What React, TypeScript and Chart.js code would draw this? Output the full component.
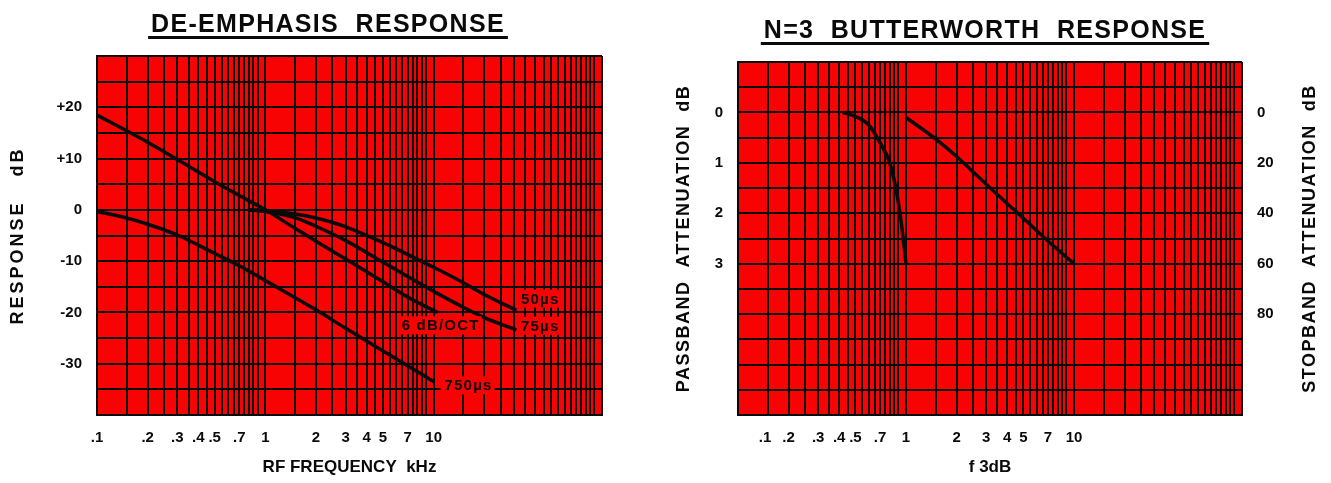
import React, { useEffect, useRef } from 'react';
import { Chart, registerables } from 'chart.js';

Chart.register(...registerables);

const FONT_FAMILY = "'Liberation Sans', Arial, Helvetica, sans-serif";
const RED = '#f80303';
const INK = '#0a0a0a';

// ---- log grid (values in kHz / normalised frequency) ----
const gridDecades = [0.1, 1, 10];
const gridSteps = [1, 1.5, 2, 2.5, 3, 3.5, 4, 4.5, 5, 5.5, 6, 6.5, 7, 7.5, 8, 8.5, 9];
const gridEnd = 100;

// ---- frequency tick labels ----
const freqLabelValues = [0.1, 0.2, 0.3, 0.4, 0.5, 0.7, 1, 2, 3, 4, 5, 7, 10];
const freqLabelTexts = ['.1', '.2', '.3', '.4', '.5', '.7', '1', '2', '3', '4', '5', '7', '10'];
// the Butterworth sheet has its ".1" lettered a little to the right of the 0.1 line
const bwLabelValues = [0.145, 0.2, 0.3, 0.4, 0.5, 0.7, 1, 2, 3, 4, 5, 7, 10];
const bwLabelTexts = ['.1', '.2', '.3', '.4', '.5', '.7', '1', '2', '3', '4', '5', '7', '10'];

// ---- left panel: de-emphasis ----
const respLabelValues = [20, 10, 0, -10, -20, -30];
const respLabelTexts = ['+20', '+10', '0', '-10', '-20', '-30'];

const freq6dB = [0.1, 0.2, 0.3, 0.5, 0.7, 1, 1.5, 2, 3, 5, 7, 10.5];
const resp6dB = [18.5, 13.2, 9.8, 5.5, 2.8, 0, -3.6, -6.1, -9.6, -14, -17, -20];

const freq50us = [0.8, 1, 1.5, 2, 3, 5, 7, 10, 15, 20, 31];
const resp50us = [0, -0.2, -0.8, -1.6, -3.3, -6.4, -8.7, -11.2, -14.2, -16.5, -19.6];

const freq75us = [0.8, 1, 1.5, 2, 3, 5, 7, 10, 15, 20, 31];
const resp75us = [0, -0.3, -1.5, -3.2, -6, -10.2, -13, -15.9, -19, -21, -23.4];

const freq750us = [0.1, 0.15, 0.2, 0.3, 0.5, 0.7, 1, 2, 3, 5, 7, 10];
const resp750us = [-0.3, -1.6, -2.8, -4.9, -8.5, -10.9, -13.8, -19.5, -23.1, -27.5, -30.4, -33.5];

const noteTexts = ['50\u00b5s', '75\u00b5s', '6 dB/OCT', '750\u00b5s'];
const noteX = [33, 33, 11, 11.6];
const noteY = [-17.3, -22.6, -22.5, -34.2];
const noteAlign = ['left', 'left', 'center', 'left'];

// ---- right panel: N=3 Butterworth ----
const passLabelValues = [0, 1, 2, 3];
const passLabelTexts = ['0', '1', '2', '3'];
const stopLabelValues = [0, 20, 40, 60, 80];
const stopLabelTexts = ['0', '20', '40', '60', '80'];

const passFreq = [0.42, 0.5, 0.6, 0.7, 0.8, 0.87, 0.93, 0.97, 1.0];
const passAtten = [0, 0.08, 0.25, 0.6, 1.0, 1.5, 2.1, 2.6, 3.0];

const stopFreq = [1, 1.5, 2, 3, 5, 7, 10];
const stopAtten = [2, 10.5, 17.5, 28.5, 42, 51, 60];

// -------------------------------------------------------------
const gridValues = gridDecades.flatMap((d) => gridSteps.map((s) => d * s)).concat([gridEnd]);

function sameLog(a: number, b: number) {
  return Math.abs(Math.log10(a) - Math.log10(b)) < 1e-6;
}

function findLabel(v: number, values: number[], texts: string[], log: boolean) {
  for (let i = 0; i < values.length; i++) {
    const a = values[i];
    if (log ? sameLog(v, a) : Math.abs(v - a) < 1e-6) return texts[i];
  }
  return '';
}

function pts(xs: number[], ys: number[]) {
  return xs.map((x, i) => ({ x, y: ys[i] }));
}

const tickFont = { family: FONT_FAMILY, size: 15, weight: 'bold' as const };
const titleFont = { family: FONT_FAMILY, size: 17, weight: 'bold' as const };

const panelDecor = {
  id: 'panelDecor',
  beforeDraw(chart: any) {
    const { ctx, chartArea: a } = chart;
    ctx.save();
    ctx.fillStyle = RED;
    ctx.fillRect(a.left, a.top, a.right - a.left, a.bottom - a.top);
    ctx.restore();
  },
  afterDatasetsDraw(chart: any, _args: any, opts: any) {
    const notes = opts.notes || [];
    const ctx = chart.ctx;
    ctx.save();
    ctx.font = `bold 15px ${FONT_FAMILY}`;
    (ctx as any).letterSpacing = '1.2px';
    ctx.textBaseline = 'middle';
    for (const n of notes) {
      const px = chart.scales.x.getPixelForValue(n.x);
      const py = chart.scales.y.getPixelForValue(n.y);
      const w = ctx.measureText(n.text).width;
      const left = n.align === 'center' ? px - w / 2 : px;
      ctx.fillStyle = RED;
      ctx.fillRect(left - 4, py - 9, w + 6, 18);
      ctx.fillStyle = INK;
      ctx.textAlign = 'left';
      ctx.fillText(n.text, left, py + 1);
    }
    ctx.restore();
  },
  afterDraw(chart: any, _args: any, opts: any) {
    const ctx = chart.ctx;
    ctx.save();
    ctx.font = `bold 25px ${FONT_FAMILY}`;
    (ctx as any).letterSpacing = '1.3px';
    ctx.fillStyle = INK;
    ctx.textAlign = 'center';
    ctx.textBaseline = 'alphabetic';
    ctx.fillText(opts.title, opts.titleX, opts.titleY);
    const w = ctx.measureText(opts.title).width;
    ctx.fillRect(opts.titleX - w / 2 - 3, opts.titleY + 4, w + 6, 3);
    ctx.restore();

    const a = chart.chartArea;
    for (const s of opts.sideTitles || []) {
      ctx.save();
      ctx.font = `bold 18px ${FONT_FAMILY}`;
      (ctx as any).letterSpacing = s.spacing;
      ctx.fillStyle = INK;
      ctx.textAlign = 'center';
      ctx.textBaseline = 'middle';
      ctx.translate(s.x, (a.top + a.bottom) / 2);
      ctx.rotate(-Math.PI / 2);
      ctx.fillText(s.text, 0, 0);
      ctx.restore();
    }
  },
};

function freqAxis(title: string, labelValues: number[], labelTexts: string[]) {
  const tickValues = gridValues.concat(labelValues.filter((v) => !gridValues.some((g) => sameLog(g, v))));
  tickValues.sort((a, b) => a - b);
  return {
    type: 'logarithmic' as const,
    min: 0.1,
    max: 100,
    afterBuildTicks: (s: any) => {
      s.ticks = tickValues.map((v) => ({ value: v }));
    },
    afterFit: (s: any) => {
      s.height = 68;
    },
    grid: {
      color: (c: any) => (c.tick && !gridValues.some((g) => sameLog(g, c.tick.value)) ? 'rgba(0,0,0,0)' : INK),
      lineWidth: 2,
      drawTicks: false,
    },
    border: { color: INK, width: 2 },
    ticks: {
      autoSkip: false,
      maxRotation: 0,
      minRotation: 0,
      padding: 14,
      color: INK,
      font: tickFont,
      callback: (v: any) => findLabel(Number(v), labelValues, labelTexts, true),
    },
    title: {
      display: true,
      text: title,
      color: INK,
      font: titleFont,
      padding: { top: 0, bottom: 5 },
    },
  };
}

const lineStyle = {
  borderColor: INK,
  borderWidth: 3.5,
  pointRadius: 0,
  fill: false,
  tension: 0.4,
  cubicInterpolationMode: 'monotone',
};

function leftConfig(): any {
  return {
    type: 'line',
    data: {
      datasets: [
        { label: '6 dB/OCT', data: pts(freq6dB, resp6dB) },
        { label: '50\u00b5s', data: pts(freq50us, resp50us) },
        { label: '75\u00b5s', data: pts(freq75us, resp75us) },
        { label: '750\u00b5s', data: pts(freq750us, resp750us) },
      ].map((d) => ({ ...d, ...lineStyle })),
    },
    options: {
      animation: false,
      responsive: false,
      devicePixelRatio: 1,
      layout: { padding: { top: 56, right: 58, left: 0, bottom: 0 } },
      plugins: {
        legend: { display: false },
        tooltip: { enabled: false },
        panelDecor: {
          title: 'DE-EMPHASIS  RESPONSE',
          titleX: 328,
          titleY: 32,
          notes: noteTexts.map((t, i) => ({ text: t, x: noteX[i], y: noteY[i], align: noteAlign[i] })),
          sideTitles: [{ text: 'RESPONSE   dB', x: 18, spacing: '3px' }],
        },
      },
      scales: {
        x: freqAxis('RF FREQUENCY  kHz', freqLabelValues, freqLabelTexts),
        y: {
          type: 'linear',
          min: -40,
          max: 30,
          afterFit: (s: any) => {
            s.width = 97;
          },
          grid: { color: INK, lineWidth: 2, drawTicks: false },
          border: { color: INK, width: 2 },
          ticks: {
            stepSize: 5,
            autoSkip: false,
            padding: 15,
            color: INK,
            font: tickFont,
            callback: (v: any) => findLabel(Number(v), respLabelValues, respLabelTexts, false),
          },
          title: { display: false },
        },
      },
    },
    plugins: [panelDecor],
  };
}

function rightConfig(): any {
  return {
    type: 'line',
    data: {
      datasets: [
        { label: 'Passband', data: pts(passFreq, passAtten), yAxisID: 'y' },
        { label: 'Stopband', data: pts(stopFreq, stopAtten), yAxisID: 'y2' },
      ].map((d) => ({ ...d, ...lineStyle })),
    },
    options: {
      animation: false,
      responsive: false,
      devicePixelRatio: 1,
      layout: { padding: { top: 62, right: 0, left: 0, bottom: 0 } },
      plugins: {
        legend: { display: false },
        tooltip: { enabled: false },
        panelDecor: {
          title: 'N=3  BUTTERWORTH  RESPONSE',
          titleX: 325,
          titleY: 38,
          notes: [],
          sideTitles: [
            { text: 'PASSBAND  ATTENUATION  dB', x: 24, spacing: '1.5px' },
            { text: 'STOPBAND  ATTENUATION  dB', x: 650, spacing: '1.5px' },
          ],
        },
      },
      scales: {
        x: freqAxis('f 3dB', bwLabelValues, bwLabelTexts),
        y: {
          type: 'linear',
          position: 'left',
          min: -1,
          max: 6,
          reverse: true,
          afterFit: (s: any) => {
            s.width = 78;
          },
          grid: { color: INK, lineWidth: 2, drawTicks: false },
          border: { color: INK, width: 2 },
          ticks: {
            stepSize: 0.5,
            autoSkip: false,
            padding: 15,
            color: INK,
            font: tickFont,
            callback: (v: any) => findLabel(Number(v), passLabelValues, passLabelTexts, false),
          },
          title: { display: false },
        },
        y2: {
          type: 'linear',
          position: 'right',
          min: -20,
          max: 120,
          reverse: true,
          afterFit: (s: any) => {
            s.width = 89;
          },
          grid: { display: false, drawTicks: false },
          border: { display: false },
          ticks: {
            stepSize: 10,
            autoSkip: false,
            padding: 15,
            color: INK,
            font: tickFont,
            callback: (v: any) => findLabel(Number(v), stopLabelValues, stopLabelTexts, false),
          },
          title: { display: false },
        },
      },
    },
    plugins: [panelDecor],
  };
}

function Panel({ make, left, width }: { make: () => any; left: number; width: number }) {
  const ref = useRef<HTMLCanvasElement>(null);
  useEffect(() => {
    const chart = new Chart(ref.current as HTMLCanvasElement, make());
    return () => chart.destroy();
  }, []);
  return (
    <canvas
      ref={ref}
      width={width}
      height={483}
      style={{ position: 'absolute', left, top: 0, width, height: 483, display: 'block' }}
    />
  );
}

export default function App() {
  return (
    <div style={{ position: 'absolute', left: 0, top: 0, width: 1331, height: 483, background: '#fff', overflow: 'hidden' }}>
      <Panel make={leftConfig} left={0} width={660} />
      <Panel make={rightConfig} left={660} width={671} />
    </div>
  );
}
